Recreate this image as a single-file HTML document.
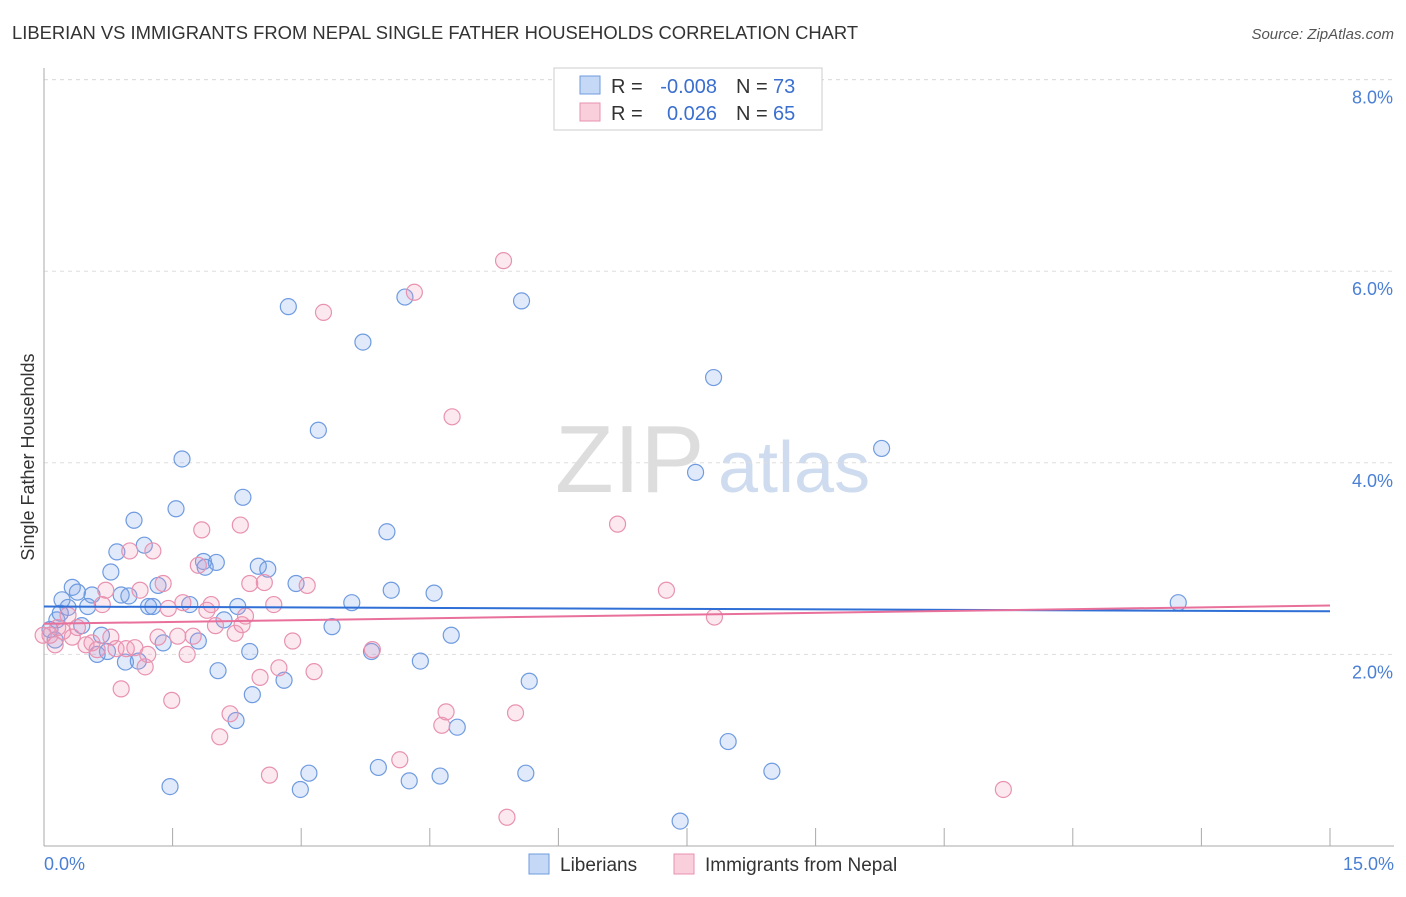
<!DOCTYPE html>
<html><head><meta charset="utf-8"><style>
body{margin:0;background:#fff;font-family:"Liberation Sans",sans-serif;}
svg text{font-family:"Liberation Sans",sans-serif;}
</style></head><body>
<svg width="1406" height="892" xmlns="http://www.w3.org/2000/svg">
<text x="12" y="39" font-size="18.4" fill="#333">LIBERIAN VS IMMIGRANTS FROM NEPAL SINGLE FATHER HOUSEHOLDS CORRELATION CHART</text>
<text x="1394" y="39" font-size="15" fill="#555" font-style="italic" text-anchor="end">Source: ZipAtlas.com</text>
<text x="555" y="492" font-size="96" fill="#ddd" font-family="Liberation Serif">ZIP</text>
<text x="718" y="492" font-size="72" fill="#cfdcef">atlas</text>
<g id="grid"></g>
<g id="axes"></g>
<g id="pts"></g>
<g id="trend"></g>
<text transform="translate(34,457) rotate(-90)" font-size="18" fill="#333" text-anchor="middle">Single Father Households</text>
<text x="44" y="870" font-size="18" fill="#4a7fd4">0.0%</text>
<text x="1394" y="870" font-size="18" fill="#4a7fd4" text-anchor="end">15.0%</text>
<g font-size="20">
<rect x="554" y="68" width="268" height="62" fill="#fff" stroke="#ccc"/>
<rect x="580" y="76" width="20" height="18" fill="#c5d8f5" stroke="#6f9be0"/>
<rect x="580" y="103" width="20" height="18" fill="#f9cfdc" stroke="#e892b0"/>
<text x="611" y="93" fill="#333">R =</text>
<text x="717" y="93" fill="#3a6fd0" text-anchor="end">-0.008</text>
<text x="736" y="93" fill="#333">N =</text>
<text x="773" y="93" fill="#3a6fd0">73</text>
<text x="611" y="120" fill="#333">R =</text>
<text x="717" y="120" fill="#3a6fd0" text-anchor="end">0.026</text>
<text x="736" y="120" fill="#333">N =</text>
<text x="773" y="120" fill="#3a6fd0">65</text>
</g>
<g>
<rect x="529" y="854" width="20" height="20" fill="#c5d8f5" stroke="#6f9be0"/>
<text x="560" y="871" font-size="19" fill="#333">Liberians</text>
<rect x="674" y="854" width="20" height="20" fill="#f9cfdc" stroke="#e892b0"/>
<text x="705" y="871" font-size="19" fill="#333">Immigrants from Nepal</text>
</g>
</svg>
<script>
const yTicks=[2,4,6,8];
const xTickCount=10;
const blueX=[0.15,0.21,0.28,0.33,0.39,0.44,0.51,0.56,0.62,0.67,0.74,0.78,0.85,0.90,0.95,0.99,1.05,1.10,1.17,1.22,1.27,1.33,1.39,1.47,1.54,1.61,1.70,1.80,1.86,1.88,2.01,2.03,2.10,2.24,2.26,2.32,2.40,2.43,2.50,2.61,2.80,2.85,2.94,2.99,3.09,3.20,3.36,3.59,3.72,3.82,3.90,4.00,4.05,4.21,4.26,4.39,4.55,4.62,4.75,4.82,5.57,5.62,5.66,7.42,7.60,7.81,7.98,8.49,9.77,13.23,0.07,0.13,0.19];
const blueY=[2.36,2.57,2.49,2.70,2.65,2.30,2.50,2.62,2.00,2.20,2.03,2.86,3.07,2.62,1.92,2.61,3.40,1.93,3.14,2.50,2.50,2.72,2.12,0.62,3.52,4.04,2.52,2.14,2.97,2.91,2.96,1.83,2.36,1.31,2.50,3.64,2.03,1.58,2.92,2.89,1.73,5.63,2.74,0.59,0.76,4.34,2.29,2.54,5.26,2.03,0.82,3.28,2.67,5.73,0.68,1.93,2.64,0.73,2.20,1.24,5.69,0.76,1.72,0.26,3.90,4.89,1.09,0.78,4.15,2.54,2.26,2.15,2.43];
const pinkX=[0.07,0.13,0.16,0.22,0.28,0.33,0.39,0.49,0.56,0.62,0.68,0.72,0.78,0.84,0.90,0.96,1.00,1.06,1.12,1.18,1.21,1.27,1.33,1.39,1.45,1.49,1.56,1.62,1.67,1.74,1.80,1.84,1.90,1.95,2.00,2.05,2.17,2.23,2.29,2.31,2.35,2.40,2.52,2.57,2.63,2.68,2.74,2.90,3.07,3.15,3.26,3.83,4.15,4.32,4.64,4.69,4.76,5.36,5.40,5.50,6.69,7.26,7.82,11.19,-0.01];
const pinkY=[2.20,2.10,2.28,2.24,2.41,2.18,2.28,2.10,2.12,2.05,2.52,2.67,2.18,2.06,1.64,2.06,3.08,2.07,2.67,1.87,2.00,3.08,2.18,2.74,2.48,1.52,2.19,2.54,2.00,2.19,2.93,3.30,2.46,2.52,2.30,1.14,1.38,2.22,3.35,2.31,2.40,2.74,1.76,2.75,0.74,2.52,1.86,2.14,2.72,1.82,5.57,2.05,0.90,5.78,1.26,1.40,4.48,6.11,0.30,1.39,3.36,2.67,2.39,0.59,2.20];
const X0=44,X1=1330,Y0=846,YP=95.8;
const xs=v=>X0+v/15*(X1-X0), ys=v=>Y0-v*YP;
const NS="http://www.w3.org/2000/svg";
function mk(t,a,p){const e=document.createElementNS(NS,t);for(const k in a)e.setAttribute(k,a[k]);p.appendChild(e);return e;}
const grid=document.getElementById('grid');
mk('line',{x1:44,y1:ys(8),x2:1394,y2:ys(8),stroke:'#ddd','stroke-dasharray':'4,4'},grid);
yTicks.forEach(t=>{
 const l=mk('line',{x1:44,y1:ys(t),x2:1394,y2:ys(t),stroke:'#ddd','stroke-dasharray':'4,4'},grid);
 
 
 const tx=mk('text',{x:1393,y:ys(t)+24,'font-size':18,fill:'#4a7fd4','text-anchor':'end'},grid);
 tx.textContent=t.toFixed(1)+'%';
 
 
});
const ax=document.getElementById('axes');
mk('line',{x1:44,y1:68,x2:44,y2:846,stroke:'#aaa'},ax);
mk('line',{x1:44,y1:846,x2:1394,y2:846,stroke:'#aaa'},ax);
for(let i=1;i<=xTickCount;i++){const x=xs(i*1.5);const t=mk('line',{x1:x,y1:846,x2:x,y2:828,stroke:'#aaa'},ax);
 
 }
const pts=document.getElementById('pts');
blueX.forEach((v,i)=>{const c=mk('circle',{cx:xs(v),cy:ys(blueY[i]),r:8,fill:'rgba(120,160,230,0.22)',stroke:'#6f9be0','stroke-width':1.2},pts);
 
 });
pinkX.forEach((v,i)=>{const c=mk('circle',{cx:xs(v),cy:ys(pinkY[i]),r:8,fill:'rgba(240,150,180,0.22)',stroke:'#e892b0','stroke-width':1.2},pts);
 
 });
const tr=document.getElementById('trend');
const b=mk('line',{x1:xs(0),y1:ys(2.50),x2:xs(15),y2:ys(2.45),stroke:'#2f6fd6','stroke-width':2},tr);


const p=mk('line',{x1:xs(0),y1:ys(2.32),x2:xs(15),y2:ys(2.51),stroke:'#e8709a','stroke-width':2},tr);


</script>
</body></html>
